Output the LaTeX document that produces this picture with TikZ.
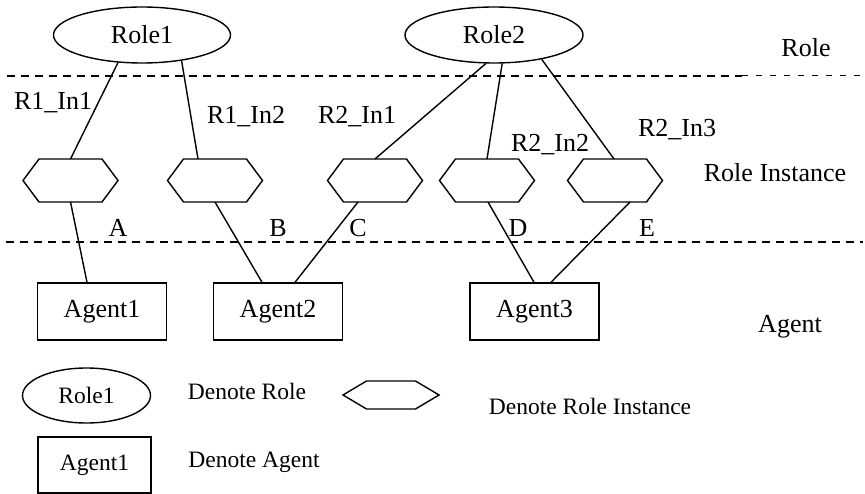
\documentclass[tikz,border=0pt]{standalone}
\usepackage{fontspec}
\setmainfont{Liberation Serif}
\usetikzlibrary{shapes.geometric,calc}

\tikzset{
  lbl/.style={font=\fontsize{26}{30}\selectfont, inner sep=0pt},
  small/.style={font=\fontsize{23.5}{28}\selectfont, inner sep=0pt},
  rolebox/.style={draw, ellipse, line width=1.4pt, inner sep=0pt,
    minimum width=177pt, minimum height=56pt, font=\fontsize{26}{30}\selectfont},
  instbox/.style={rectangle, inner sep=0pt, outer sep=0pt,
    minimum width=95pt, minimum height=43pt},
  agentbox/.style={draw, rectangle, line width=1.4pt, inner sep=0pt,
    minimum width=129pt, minimum height=57pt, font=\fontsize{26}{30}\selectfont},
  link/.style={line width=1.4pt},
  hexline/.style={line width=1.4pt, line join=miter},
  sep/.style={line width=2pt, dash pattern=on 8pt off 6pt},
  septhin/.style={line width=1pt, dash pattern=on 6pt off 8pt},
}

% hexagonal outline around a named node; #2 is how far the points stick out
\newcommand\hexoutline[2]{%
  \draw[hexline] (#1.west) -- ($(#1.north west)+(#2,0)$) -- ($(#1.north east)+(-#2,0)$)
    -- (#1.east) -- ($(#1.south east)+(-#2,0)$) -- ($(#1.south west)+(#2,0)$) -- cycle;}

\begin{document}
\begin{tikzpicture}[x=1pt, y=-1pt]
\useasboundingbox (0,0) rectangle (865,494);

% layer separators
\coordinate (s1a) at (7,76);
\coordinate (s1b) at (742,76);
\coordinate (s1c) at (863,76);
\coordinate (s2a) at (6,242);
\coordinate (s2b) at (863,242);
\draw[sep] (s1a) -- (s1b);
\draw[septhin] (s1b) -- (s1c);
\draw[sep] (s2a) -- (s2b);

% roles
\node[rolebox] (r1) at (142,35) {Role1};
\node[rolebox, minimum width=178pt] (r2) at (494,35) {Role2};

% role instances
\node[instbox] (h1) at (70.5,180.5) {};
\node[instbox] (h2) at (215,180.5) {};
\node[instbox] (h3) at (375,180.5) {};
\node[instbox] (h4) at (487,180.5) {};
\node[instbox] (h5) at (615,180.5) {};
\foreach \h in {h1,h2,h3,h4,h5} {\hexoutline{\h}{16}}

% agents
\node[agentbox] (a1) at (102,311.5) {Agent1};
\node[agentbox] (a2) at (278,311.5) {Agent2};
\node[agentbox] (a3) at (534.5,311.5) {Agent3};

% role -> instance links
\draw[link] (r1.229) -- (h1.north);
\draw[link] (r1.327) -- ($(h2.north)+(-17,0)$);
\draw[link] (r2.254) -- (h3.north);
\draw[link] (r2.286) -- (h4.north);
\draw[link] (r2.333) -- ($(h5.north)+(-1,0)$);

% instance -> agent links
\draw[link] (h1.south) -- ($(a1.north)+(-15,0)$);
\draw[link] (h2.south) -- ($(a2.north)+(-16,0)$);
\draw[link] ($(h3.south)+(-17,0)$) -- ($(a2.north)+(17,0)$);
\draw[link] ($(h4.south)+(1,0)$) -- ($(a3.north)+(-0.5,0)$);
\draw[link] ($(h5.south)+(15,0)$) -- ($(a3.north)+(16.5,0)$);

% instance labels
\node[lbl] (l11) at (53,103) {R1\_In1};
\node[lbl] (l12) at (246,117) {R1\_In2};
\node[lbl] (l21) at (357,117) {R2\_In1};
\node[lbl] (l22) at (550,145) {R2\_In2};
\node[lbl] (l23) at (677,130) {R2\_In3};

% link labels
\node[lbl] (la) at (118,228) {A};
\node[lbl] (lb) at (278,228) {B};
\node[lbl] (lc) at (358,228) {C};
\node[lbl] (ld) at (518,228) {D};
\node[lbl] (le) at (647,228) {E};

% layer names
\node[lbl] (tr) at (806,48) {Role};
\node[lbl] (ti) at (775,173) {Role Instance};
\node[lbl] (ta) at (790,327) {Agent};

% legend
\node[rolebox, minimum width=128pt, minimum height=55pt,
      font=\fontsize{23.5}{28}\selectfont] (kr) at (86.5,395.5) {Role1};
\node[instbox, minimum width=96pt, minimum height=28pt] (kh) at (391,395) {};
\hexoutline{kh}{23.5}
\node[agentbox, minimum width=113pt, minimum height=56pt,
      font=\fontsize{23.5}{28}\selectfont] (ka) at (94.5,465) {Agent1};
\node[small] (tk1) at (247,391) {Denote Role};
\node[small] (tk2) at (590,406) {Denote Role Instance};
\node[small] (tk3) at (254,462) {Denote Agent};
\end{tikzpicture}
\end{document}
